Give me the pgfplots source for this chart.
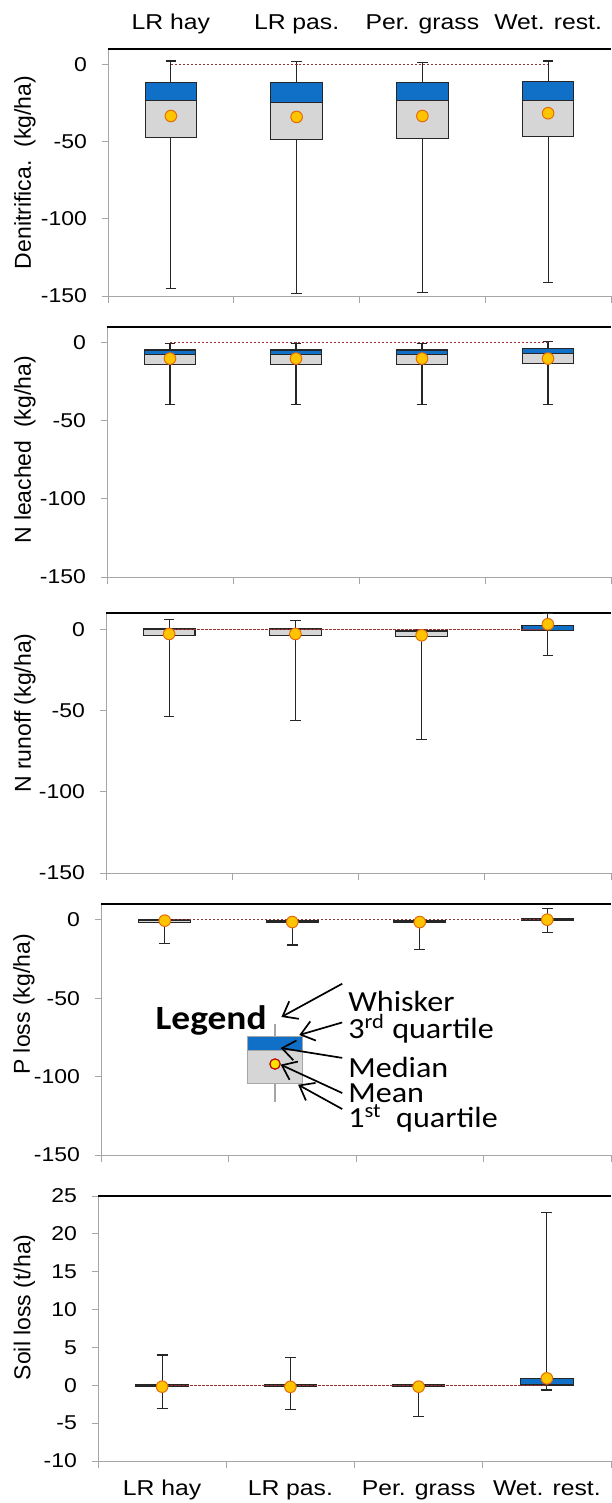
\documentclass[border=0pt]{standalone}
\usepackage{pgfplots}
\pgfplotsset{compat=1.18}
\usepgfplotslibrary{statistics}
\usetikzlibrary{arrows.meta}
\usepackage{fontspec}
\setmainfont[FakeStretch=1.15]{Liberation Sans}
\newfontfamily\ylabfont{Liberation Sans}
\newfontfamily\calib[FakeStretch=1.1]{Carlito}
\definecolor{boxblue}{RGB}{16,112,200}
\definecolor{boxgray}{RGB}{214,214,214}
\definecolor{meanfill}{RGB}{255,196,0}
\definecolor{meanedge}{RGB}{228,108,10}
\definecolor{zeroline}{RGB}{150,50,50}
\definecolor{spine}{RGB}{166,166,166}

\pgfplotsset{
  panel/.style={
    scale only axis, xmin=-0.5, xmax=3.5,
    axis line style={draw=none},
    tick align=outside,
    major tick length=3pt, minor tick length=3.5pt,
    xtick={0,1,2,3}, xticklabels={},
    every major x tick/.append style={draw=none},
    minor xtick={-0.5,0.5,1.5,2.5,3.5},
    every minor x tick/.append style={draw=spine, line width=0.4pt},
    xtick pos=left, ytick pos=left,
    every major y tick/.append style={draw=spine, line width=0.4pt},
    yticklabel style={font=\fontsize{10}{12}\selectfont, xshift=-4pt},
    xticklabel style={font=\fontsize{10.75}{13}\selectfont},
    ylabel style={font=\ylabfont\fontsize{11.5}{13.5}\selectfont, anchor=center},
    clip=false,
    boxplot/draw direction=y,
    boxplot/box extend=0.41,
    boxplot/whisker extend=0.085,
    boxplot/draw/box/.code={%
      \draw[fill=boxgray] (boxplot box cs:\pgfplotsboxplotvalue{lower quartile},0) rectangle (boxplot box cs:\pgfplotsboxplotvalue{median},1);
      \draw[fill=boxblue] (boxplot box cs:\pgfplotsboxplotvalue{median},0) rectangle (boxplot box cs:\pgfplotsboxplotvalue{upper quartile},1);
    },
  },
  boxstyle/.style={draw=black!85, line width=0.55pt},
  meanstyle/.style={only marks, mark=*, mark size=2.9pt, mark options={fill=meanfill, draw=meanedge, line width=0.5pt}},
  zerostyle/.style={zeroline, dash pattern=on 1.2pt off 0.8pt, line width=0.5pt},
}
\newcommand{\bx}[6]{\addplot[boxstyle, boxplot prepared={draw position=#1, lower whisker=#2, lower quartile=#3, median=#4, upper quartile=#5, upper whisker=#6}] coordinates {};}
\newcommand{\spines}{%
  \draw[spine, line width=0.4pt] (rel axis cs:0,0) -- (rel axis cs:0,1);
  \draw[spine, line width=0.4pt] (rel axis cs:0,0) -- (rel axis cs:1,0);
  \draw[black, line width=0.6pt] (rel axis cs:0,1) -- (rel axis cs:1,1);}

\begin{document}
\begin{tikzpicture}
\useasboundingbox (0,0) rectangle (305.5pt,-751.5pt);

% Panel 1: Denitrification
\begin{axis}[panel, at={(54pt,-24.5pt)}, anchor=north west, width=251.5pt, height=123.5pt,
  ymin=-150, ymax=10, ytick={-150,-100,-50,0}, yticklabels={-150,-100,-50,0},
  xticklabels={LR hay,LR pas.,Per. grass,Wet. rest.}, xticklabel pos=right,
  xticklabel style={anchor=base, yshift=6.5pt},
  ylabel={Denitrifica.\ \ (kg/ha)},
  ylabel style={at={([xshift=-41.5pt]axis description cs:0,0.5)}}]
\spines
\bx{0}{-145}{-47.3}{-23.6}{-11.9}{2.2}
\bx{1}{-148.5}{-48.8}{-24.5}{-11.9}{1.7}
\bx{2}{-147.6}{-48.1}{-23.2}{-11.9}{1.5}
\bx{3}{-141.3}{-46.4}{-23.2}{-11.3}{2.2}
\addplot[zerostyle] coordinates {(0,0) (1,0) (2,0) (3,0)};
\addplot[meanstyle] coordinates {(0,-33.4) (1,-34.0) (2,-33.4) (3,-31.6)};
\end{axis}

% Panel 2: N leached
\begin{axis}[panel, at={(53.5pt,-163.5pt)}, anchor=north west, width=252pt, height=125pt,
  ymin=-150, ymax=10, ytick={-150,-100,-50,0}, yticklabels={-150,-100,-50,0},
  ylabel={N leached\ \ (kg/ha)},
  ylabel style={at={([xshift=-41pt]axis description cs:0,0.508)}}]
\spines
\bx{0}{-39.6}{-14}{-7.7}{-4.7}{-0.6}
\bx{1}{-39.6}{-14}{-7.4}{-4.7}{-0.4}
\bx{2}{-39.6}{-14}{-7.7}{-4.7}{-0.4}
\bx{3}{-39.6}{-13.2}{-6.8}{-3.8}{0.9}
\addplot[zerostyle] coordinates {(0,0) (1,0) (2,0) (3,0)};
\addplot[meanstyle] coordinates {(0,-10.2) (1,-10.2) (2,-10.2) (3,-10.2)};
\end{axis}

% Panel 3: N runoff
\begin{axis}[panel, at={(53pt,-306.5pt)}, anchor=north west, width=252.5pt, height=130pt,
  ymin=-150, ymax=10, ytick={-150,-100,-50,0}, yticklabels={-150,-100,-50,0},
  ylabel={N runoff (kg/ha)},
  ylabel style={at={([xshift=-40.5pt]axis description cs:0,0.615)}}]
\spines
\bx{0}{-53.8}{-3.9}{-0.4}{0.2}{6.2}
\bx{1}{-55.9}{-3.9}{-0.4}{0.2}{5.3}
\bx{2}{-68}{-4.7}{-1.2}{-0.6}{0}
\bx{3}{-16.4}{-0.8}{-0.5}{2.3}{9.8}
\addplot[zerostyle] coordinates {(0,0) (1,0) (2,0) (3,0)};
\addplot[meanstyle] coordinates {(0,-2.9) (1,-2.9) (2,-3.7) (3,3.1)};
\end{axis}

% Panel 4: P loss, with legend
\begin{axis}[panel, at={(50.5pt,-452pt)}, anchor=north west, width=255pt, height=125.5pt,
  ymin=-150, ymax=10, ytick={-150,-100,-50,0}, yticklabels={-150,-100,-50,0},
  ylabel={P loss (kg/ha)},
  ylabel style={at={([xshift=-38.5pt]axis description cs:0,0.60)}}]
\spines
\bx{0}{-15.3}{-1.6}{-0.7}{-0.2}{0}
\bx{1}{-16.1}{-1.9}{-1.0}{-0.4}{-0.2}
\bx{2}{-19.1}{-2.0}{-1.1}{-0.5}{-0.3}
\bx{3}{-8.3}{-0.5}{0.0}{0.5}{7.0}
\addplot[zerostyle] coordinates {(0,0) (1,0) (2,0) (3,0)};
\addplot[meanstyle] coordinates {(0,-0.6) (1,-1.5) (2,-1.5) (3,0.0)};
% legend sample box
\addplot[draw=spine, line width=0.6pt, boxplot prepared={draw position=0.865, lower whisker=-116, lower quartile=-104.3, median=-83.5, upper quartile=-74.4, upper whisker=-66.5, box extend=0.43, whisker extend=0}] coordinates {};
\addplot[only marks, mark=*, mark size=2.6pt, mark options={fill=yellow!85!orange, draw=red!75!black, line width=0.6pt}] coordinates {(0.865,-92)};
\node[anchor=base east, inner sep=0pt, font=\calib\bfseries\fontsize{17}{20}\selectfont] at (axis cs:0.802,-70.1) {Legend};
\begin{scope}[font=\calib\fontsize{14.6}{16}\selectfont]
\node[anchor=base west, inner sep=0pt] at (axis cs:1.437,-58.6) {Whisker};
\node[anchor=base west, inner sep=0pt] at (axis cs:1.437,-75.8) {3\textsuperscript{rd} quartile};
\node[anchor=base west, inner sep=0pt] at (axis cs:1.437,-100.7) {Median};
\node[anchor=base west, inner sep=0pt] at (axis cs:1.437,-116.6) {Mean};
\node[anchor=base west, inner sep=0pt] at (axis cs:1.437,-132.6) {1\textsuperscript{st}\ \ quartile};
\end{scope}
\begin{scope}[line width=0.85pt, -{Straight Barb[length=6.5pt,width=10pt,line width=0.85pt]}]
\draw (axis cs:1.392,-40.8) -- (axis cs:0.915,-62.0);
\draw (axis cs:1.392,-65.5) -- (axis cs:1.055,-73.5);
\draw (axis cs:1.392,-88.1) -- (axis cs:0.909,-81.8);
\draw (axis cs:1.392,-110.5) -- (axis cs:0.909,-92.4);
\draw (axis cs:1.392,-120.7) -- (axis cs:1.046,-105.2);
\end{scope}
\end{axis}

% Panel 5: Soil loss
\begin{axis}[panel, at={(49pt,-598pt)}, anchor=north west, width=256.5pt, height=132.5pt,
  ymin=-10, ymax=25, ytick={-10,-5,0,5,10,15,20,25}, yticklabels={-10,-5,0,5,10,15,20,25},
  xticklabels={LR hay,LR pas.,Per. grass,Wet. rest.},
  xticklabel style={anchor=base, yshift=-14pt},
  ylabel={Soil loss (t/ha)},
  ylabel style={at={([xshift=-36.75pt]axis description cs:0,0.58)}}]
\spines
\bx{0}{-3.04}{-0.2}{-0.05}{0.15}{4.0}
\bx{1}{-3.17}{-0.2}{-0.05}{0.12}{3.7}
\bx{2}{-4.14}{-0.2}{-0.05}{0.12}{0.12}
\bx{3}{-0.62}{0.0}{0.05}{0.84}{22.8}
\addplot[zerostyle] coordinates {(0,0) (1,0) (2,0) (3,0)};
\addplot[meanstyle] coordinates {(0,-0.18) (1,-0.2) (2,-0.18) (3,0.92)};
\end{axis}
\end{tikzpicture}
\end{document}
